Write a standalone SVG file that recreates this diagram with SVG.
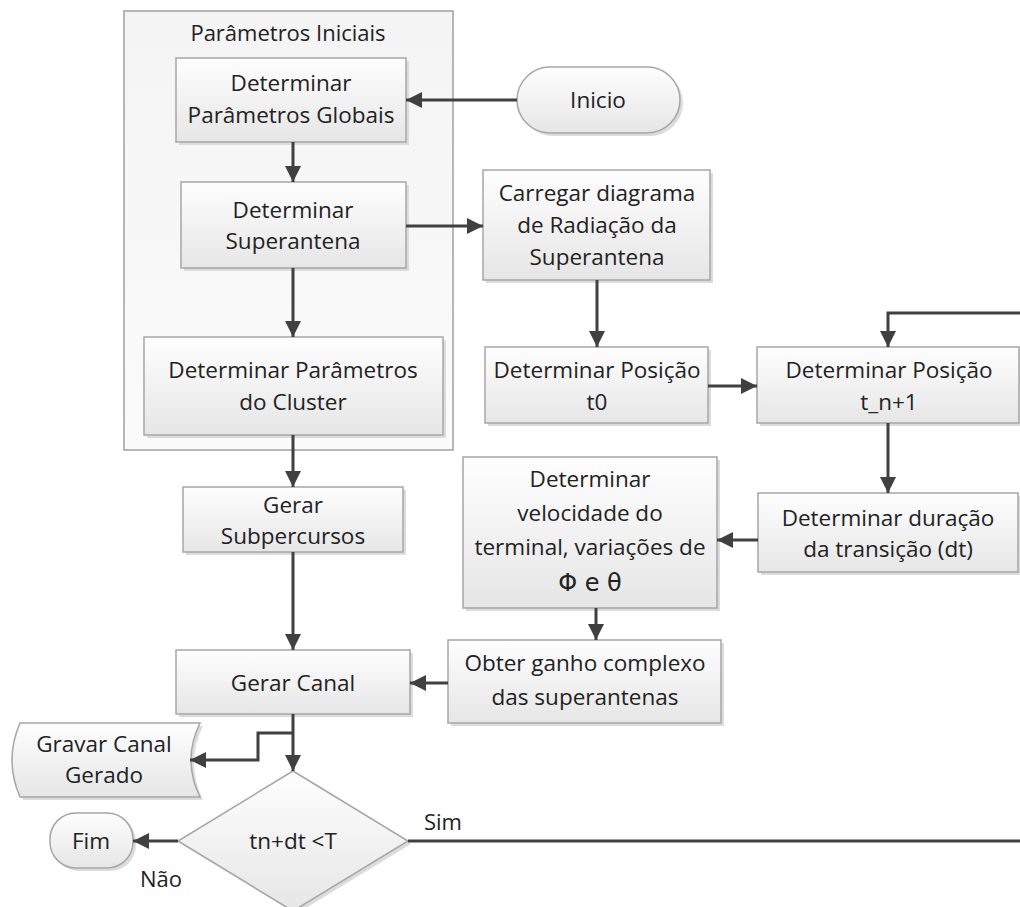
<svg xmlns="http://www.w3.org/2000/svg" width="1020" height="907" viewBox="0 0 1020 907">
<style>
  .box { fill: url(#g); stroke: #a6a6a6; stroke-width: 1.5; }
  .sh { fill: #dcdcdc; }
  .t { font-family: "Open Sans", "Liberation Sans", sans-serif; font-size: 22.5px; fill: #222; text-anchor: middle; }
  .lbl { font-family: "Open Sans", "Liberation Sans", sans-serif; font-size: 22px; fill: #222; }
  .c { fill: none; stroke: #404040; stroke-width: 3; }
</style>
<defs>
  <linearGradient id="g" x1="0" y1="0" x2="0" y2="1">
    <stop offset="0" stop-color="#fefefe"/>
    <stop offset="1" stop-color="#e6e6e6"/>
  </linearGradient>
  <linearGradient id="gc" x1="0" y1="0" x2="0" y2="1">
    <stop offset="0" stop-color="#f4f4f4"/>
    <stop offset="1" stop-color="#fbfbfb"/>
  </linearGradient>
  <marker id="a" markerUnits="userSpaceOnUse" markerWidth="18" markerHeight="18" refX="16" refY="8" orient="auto">
    <path d="M0,0 L16,8 L0,16 z" fill="#404040"/>
  </marker>
</defs>

<g id="container">
  <rect x="124" y="11" width="329" height="439" fill="url(#gc)" stroke="#a0a0a0" stroke-width="1.5"/>
  <text class="lbl" x="288" y="41" text-anchor="middle">Parâmetros Iniciais</text>
</g>

<g id="globais">
  <rect class="sh" x="179" y="61" width="230" height="84"/>
  <rect class="box" x="176" y="58" width="230" height="84"/>
  <text class="t" x="291" y="91">Determinar</text>
  <text class="t" x="291" y="123">Parâmetros Globais</text>
</g>
<g id="superantena">
  <rect class="sh" x="184" y="185" width="225" height="86"/>
  <rect class="box" x="181" y="182" width="225" height="86"/>
  <text class="t" x="293" y="218">Determinar</text>
  <text class="t" x="293" y="249">Superantena</text>
</g>
<g id="cluster">
  <rect class="sh" x="147" y="340" width="299" height="98"/>
  <rect class="box" x="144" y="337" width="299" height="98"/>
  <text class="t" x="293" y="378">Determinar Parâmetros</text>
  <text class="t" x="293" y="410">do Cluster</text>
</g>
<g id="inicio">
  <rect class="sh" x="520" y="70" width="163" height="66" rx="33"/>
  <rect class="box" x="517" y="67" width="163" height="66" rx="33"/>
  <text class="t" x="598" y="108">Inicio</text>
</g>
<g id="carregar">
  <rect class="sh" x="486" y="173" width="227" height="110"/>
  <rect class="box" x="483" y="170" width="227" height="110"/>
  <text class="t" x="597" y="201">Carregar diagrama</text>
  <text class="t" x="597" y="233">de Radiação da</text>
  <text class="t" x="597" y="265">Superantena</text>
</g>
<g id="pos_t0">
  <rect class="sh" x="488" y="350" width="223" height="76"/>
  <rect class="box" x="485" y="347" width="223" height="76"/>
  <text class="t" x="597" y="378">Determinar Posição</text>
  <text class="t" x="597" y="410">t0</text>
</g>
<g id="pos_tn1">
  <rect class="sh" x="760" y="350" width="262" height="76"/>
  <rect class="box" x="757" y="347" width="262" height="76"/>
  <text class="t" x="889" y="378">Determinar Posição</text>
  <text class="t" x="889" y="410">t_n+1</text>
</g>
<g id="duracao">
  <rect class="sh" x="761" y="496" width="260" height="79"/>
  <rect class="box" x="758" y="493" width="260" height="79"/>
  <text class="t" x="888" y="526">Determinar duração</text>
  <text class="t" x="888" y="557">da transição (dt)</text>
</g>
<g id="velocidade">
  <rect class="sh" x="466" y="460" width="254" height="151"/>
  <rect class="box" x="463" y="457" width="254" height="151"/>
  <text class="t" x="590" y="487">Determinar</text>
  <text class="t" x="590" y="521">velocidade do</text>
  <text class="t" x="590" y="555">terminal, variações de</text>
  <text class="t" x="590" y="591" style="font-family:'DejaVu Sans',sans-serif;font-size:24px">Φ e θ</text>
</g>
<g id="obter">
  <rect class="sh" x="451" y="643" width="273" height="83"/>
  <rect class="box" x="448" y="640" width="273" height="83"/>
  <text class="t" x="585" y="671">Obter ganho complexo</text>
  <text class="t" x="585" y="705">das superantenas</text>
</g>
<g id="subpercursos">
  <rect class="sh" x="186" y="490" width="220" height="65"/>
  <rect class="box" x="183" y="487" width="220" height="65"/>
  <text class="t" x="293" y="513">Gerar</text>
  <text class="t" x="293" y="544">Subpercursos</text>
</g>
<g id="canal">
  <rect class="sh" x="179" y="653" width="234" height="64"/>
  <rect class="box" x="176" y="650" width="234" height="64"/>
  <text class="t" x="293" y="691">Gerar Canal</text>
</g>
<g id="gravar">
  <path class="sh" d="M23,726 H203 Q185,763 203,800 H23 Q7,763 23,726 Z"/>
  <path class="box" d="M20,723 H200 Q182,760 200,797 H20 Q4,760 20,723 Z"/>
  <text class="t" x="104" y="752">Gravar Canal</text>
  <text class="t" x="104" y="783">Gerado</text>
</g>
<g id="decisao">
  <path class="sh" d="M296,774 L411,844 L296,914 L181,844 Z"/>
  <path class="box" d="M293,771 L408,841 L293,911 L178,841 Z"/>
  <text class="t" x="293" y="849">tn+dt &lt;T</text>
</g>
<g id="fim">
  <rect class="sh" x="53" y="816" width="83" height="55" rx="26"/>
  <rect class="box" x="50" y="813" width="83" height="55" rx="26"/>
  <text class="t" x="91" y="849">Fim</text>
</g>

<g id="connectors">
  <line class="c" x1="517" y1="100" x2="406" y2="100" marker-end="url(#a)"/>
  <line class="c" x1="293" y1="142" x2="293" y2="182" marker-end="url(#a)"/>
  <line class="c" x1="293" y1="268" x2="293" y2="337" marker-end="url(#a)"/>
  <line class="c" x1="406" y1="226" x2="483" y2="226" marker-end="url(#a)"/>
  <line class="c" x1="597" y1="280" x2="597" y2="347" marker-end="url(#a)"/>
  <line class="c" x1="708" y1="386" x2="757" y2="386" marker-end="url(#a)"/>
  <polyline class="c" points="1020,313 888,313 888,347" marker-end="url(#a)"/>
  <line class="c" x1="888" y1="423" x2="888" y2="493" marker-end="url(#a)"/>
  <line class="c" x1="758" y1="540" x2="717" y2="540" marker-end="url(#a)"/>
  <line class="c" x1="596" y1="608" x2="596" y2="640" marker-end="url(#a)"/>
  <line class="c" x1="448" y1="683" x2="410" y2="683" marker-end="url(#a)"/>
  <line class="c" x1="293" y1="435" x2="293" y2="487" marker-end="url(#a)"/>
  <line class="c" x1="293" y1="552" x2="293" y2="650" marker-end="url(#a)"/>
  <line class="c" x1="293" y1="714" x2="293" y2="771" marker-end="url(#a)"/>
  <polyline class="c" points="293,733 258,733 258,760 190,760" marker-end="url(#a)"/>
  <line class="c" x1="178" y1="841" x2="133" y2="841" marker-end="url(#a)"/>
  <line class="c" x1="408" y1="841" x2="1020" y2="841"/>
  <text class="lbl" x="424" y="830">Sim</text>
  <text class="lbl" x="140" y="887">Não</text>
</g>
</svg>
